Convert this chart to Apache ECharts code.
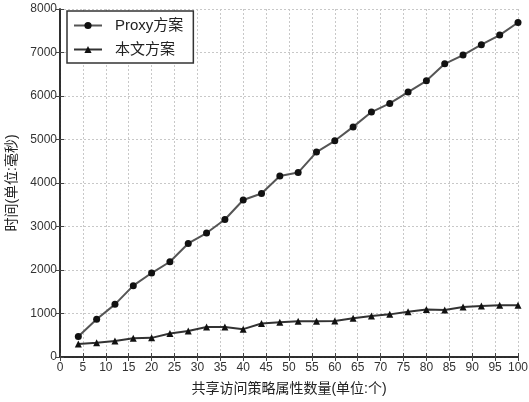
<!DOCTYPE html>
<html>
<head>
<meta charset="utf-8">
<script src="https://cdn.jsdelivr.net/npm/echarts@6/dist/echarts.min.js"></script>
<style>
  html, body { margin: 0; padding: 0; background: #fff; }
  #chart { width: 529px; height: 402px; }
</style>
</head>
<body>
<div id="chart"></div>
<script>
// Number of shared access-policy attributes
const attrCounts = [4, 8, 12, 16, 20, 24, 28, 32, 36, 40, 44, 48, 52, 56, 60, 64, 68, 72, 76, 80, 84, 88, 92, 96, 100];
// Time (ms) for the proxy scheme
const proxyTimes = [470, 870, 1210, 1640, 1930, 2190, 2610, 2850, 3160, 3610, 3760, 4160, 4240, 4710, 4970, 5290, 5630, 5830, 6090, 6350, 6740, 6940, 7180, 7400, 7690];
// Time (ms) for the proposed scheme
const oursTimes = [300, 330, 370, 430, 440, 540, 600, 690, 690, 640, 770, 800, 820, 820, 830, 890, 940, 980, 1040, 1090, 1080, 1150, 1170, 1190, 1190];

const seriesNames = ['Proxy方案', '本文方案'];
const xTicks = { min: 0, max: 100, step: 5 };
const yTicks = { min: 0, max: 8000, step: 1000 };

const FONT = '"Liberation Sans", "Noto Sans CJK SC", sans-serif';

const chart = echarts.init(document.getElementById('chart'), null, { renderer: 'canvas' });

const gridLine = { show: true, lineStyle: { color: '#c8c8c8', type: [2, 2], width: 1 } };
const axisLineStyle = { show: true, lineStyle: { color: '#222', width: 1.5 } };
const innerTick = { show: true, inside: true, length: 4, lineStyle: { color: '#444' } };

chart.setOption({
  animation: false,
  backgroundColor: '#fff',
  textStyle: { fontFamily: FONT },
  grid: { left: 60, right: 11, top: 9, bottom: 45, containLabel: false, outerBoundsMode: 'none' },
  legend: {
    orient: 'vertical',
    left: 67,
    top: 11,
    data: seriesNames,
    itemWidth: 28,
    itemHeight: 9,
    itemGap: 9,
    padding: [7, 10, 6, 6],
    borderColor: '#333',
    borderWidth: 1.5,
    backgroundColor: '#fff',
    textStyle: { fontSize: 15, color: '#222', fontFamily: FONT, padding: [0, 0, 0, 8] }
  },
  xAxis: [
    {
      type: 'value',
      min: xTicks.min, max: xTicks.max, interval: xTicks.step,
      name: '共享访问策略属性数量(单位:个)',
      nameLocation: 'middle',
      nameGap: 25,
      nameTextStyle: { fontSize: 14, color: '#222', fontFamily: FONT },
      axisLine: axisLineStyle,
      axisTick: innerTick,
      axisLabel: { fontSize: 12, color: '#333', margin: 5 },
      splitLine: gridLine
    },
    {
      type: 'value', position: 'top',
      min: xTicks.min, max: xTicks.max, interval: xTicks.step,
      axisLine: axisLineStyle,
      axisTick: innerTick,
      axisLabel: { show: false },
      splitLine: { show: false }
    }
  ],
  yAxis: [
    {
      type: 'value',
      min: yTicks.min, max: yTicks.max, interval: yTicks.step,
      name: '时间(单位:毫秒)',
      nameLocation: 'middle',
      nameGap: 40,
      nameTextStyle: { fontSize: 14, color: '#222', fontFamily: FONT },
      axisLine: axisLineStyle,
      axisTick: innerTick,
      axisLabel: { fontSize: 12, color: '#333', margin: 3, formatter: (v) => String(v) },
      splitLine: gridLine
    },
    {
      type: 'value', position: 'right',
      min: yTicks.min, max: yTicks.max, interval: yTicks.step,
      axisLine: axisLineStyle,
      axisTick: innerTick,
      axisLabel: { show: false },
      splitLine: { show: false }
    }
  ],
  series: [
    {
      name: seriesNames[0],
      type: 'line',
      data: attrCounts.map((x, i) => [x, proxyTimes[i]]),
      symbol: 'circle',
      symbolSize: 7,
      itemStyle: { color: '#111' },
      lineStyle: { color: '#555', width: 2 }
    },
    {
      name: seriesNames[1],
      type: 'line',
      data: attrCounts.map((x, i) => [x, oursTimes[i]]),
      symbol: 'triangle',
      symbolSize: 7,
      itemStyle: { color: '#111' },
      lineStyle: { color: '#333', width: 2 }
    }
  ]
});
</script>
</body>
</html>
